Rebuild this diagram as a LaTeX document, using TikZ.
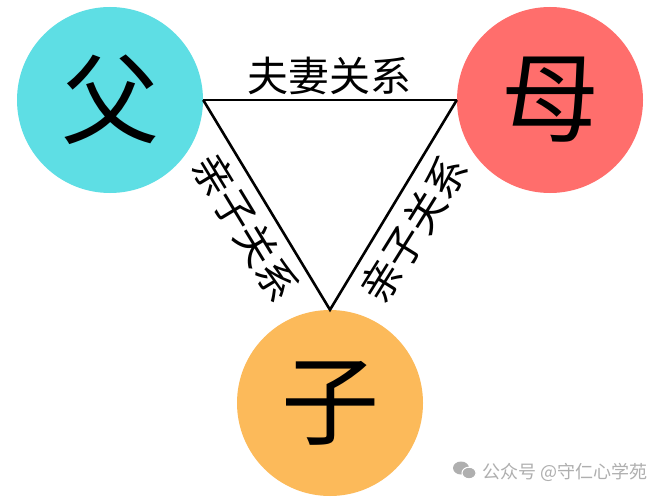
\documentclass[tikz,border=0pt]{standalone}
\usepackage{fontspec}
\setmainfont{Noto Sans CJK SC}
\definecolor{fcyan}{RGB}{94,222,228}
\definecolor{mred}{RGB}{255,110,108}
\definecolor{corange}{RGB}{252,186,90}
\definecolor{wmgray}{RGB}{175,175,175}
\begin{document}
\begin{tikzpicture}[x=1pt,y=-1pt,
  person/.style={circle,minimum size=186pt,inner sep=0pt,font=\fontsize{98}{98}\selectfont},
  rel/.style={line width=2.6pt,black},
  rellabel/.style={inner sep=0pt,font=\fontsize{41}{41}\selectfont}]
\useasboundingbox (0,0) rectangle (666,500);
\fill[white] (0,0) rectangle (666,500);
\node[person,fill=fcyan] (father) at (110,100) {父};
\node[person,fill=mred] (mother) at (550,100) {母};
\node[person,fill=corange] (child) at (330,403) {子};
\draw[rel] (father.east) -- (mother.west);
\draw[rel] (father.east) -- (child.north) -- (mother.west);
\node[rellabel] (top) at (329,76) {夫妻关系};
\node[rellabel,rotate=-58.7] (left) at (246,227) {亲子关系};
\node[rellabel,rotate=58.1] (right) at (414,229) {亲子关系};
% watermark
\fill[wmgray] (461,468) ellipse (8 and 6.5);
\filldraw[wmgray,draw=white,line width=1pt] (469,473) ellipse (7 and 5.8);
\node[anchor=west,inner sep=0pt,text=wmgray,font=\fontsize{18}{18}\selectfont] (wm) at (482,472) {公众号 @守仁心学苑};
\end{tikzpicture}
\end{document}
